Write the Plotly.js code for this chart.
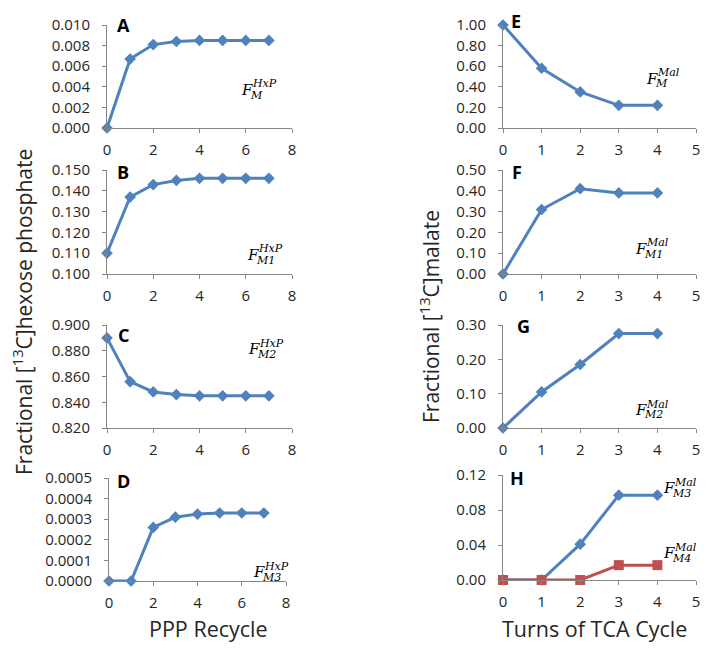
<!DOCTYPE html>
<html><head><meta charset="utf-8">
<script src="https://cdn.plot.ly/plotly-3.0.1.min.js"></script>
<style>html,body{margin:0;padding:0;background:#fff}#c{width:714px;height:649px}</style>
</head><body><div id="c"></div>
<script>
// ---- data ----
const pppX = [0,1,2,3,4,5,6,7];
const tcaX = [0,1,2,3,4];
const hxpM  = [0, 0.0067, 0.0081, 0.0084, 0.0085, 0.0085, 0.0085, 0.0085];
const hxpM1 = [0.110, 0.137, 0.143, 0.145, 0.146, 0.146, 0.146, 0.146];
const hxpM2 = [0.890, 0.856, 0.848, 0.846, 0.845, 0.845, 0.845, 0.845];
const hxpM3 = [0, 0, 0.00026, 0.00031, 0.000325, 0.00033, 0.00033, 0.00033];
const malM  = [1.00, 0.58, 0.35, 0.22, 0.22];
const malM1 = [0, 0.31, 0.41, 0.39, 0.39];
const malM2 = [0, 0.105, 0.185, 0.275, 0.275];
const malM3 = [0, 0, 0.041, 0.097, 0.097];
const malM4 = [0, 0, 0, 0.017, 0.017];
const panelLetters = ['A','B','C','D','E','F','G','H'];
const xTitles = ['PPP Recycle','Turns of TCA Cycle'];
const yTitles = ['Fractional [<sup>13</sup>C]hexose phosphate','Fractional [<sup>13</sup>C]malate'];

const W=714,H=649;
const BLUE='#4F81BD', RED='#C0504D', AX='#868686', TXT='#262626';
const FONT='Open Sans, Liberation Sans, sans-serif';
const px=x=>x/W, py=y=>1-y/H;

// panels: [x0,x1,ytop,ybot, yrange, dtick, fmt, xmax]
const panels=[
 [107,292,25,128,[0,0.010],0.002,'.3f',8],
 [107,292,170,274,[0.100,0.150],0.010,'.3f',8],
 [107,292,325,428,[0.820,0.900],0.020,'.3f',8],
 [109,286,478,581,[0,0.0005],0.0001,'.4f',8],
 [503,696,25,128,[0,1.00],0.20,'.2f',5],
 [503,696,170,274,[0,0.50],0.10,'.2f',5],
 [503,696,325,428,[0,0.30],0.10,'.2f',5],
 [503,696,475,580,[0,0.12],0.04,'.2f',5]
];
const series=[
 [pppX,hxpM,BLUE,'diamond'],[pppX,hxpM1,BLUE,'diamond'],[pppX,hxpM2,BLUE,'diamond'],[pppX,hxpM3,BLUE,'diamond'],
 [tcaX,malM,BLUE,'diamond'],[tcaX,malM1,BLUE,'diamond'],[tcaX,malM2,BLUE,'diamond'],[tcaX,malM3,BLUE,'diamond']
];
const layout={width:W,height:H,margin:{l:0,r:0,t:0,b:0},showlegend:false,
  paper_bgcolor:'#fff',plot_bgcolor:'#fff',font:{family:FONT,color:TXT},annotations:[]};
const data=[];
panels.forEach((p,i)=>{
  const n=i+1, xa='xaxis'+(n>1?n:''), ya='yaxis'+(n>1?n:'');
  const xr='x'+(n>1?n:''), yr='y'+(n>1?n:'');
  layout[xa]={domain:[px(p[0]),px(p[1])],anchor:yr,range:[0,p[7]],dtick:p[7]==8?2:1,tick0:0,
    showgrid:false,zeroline:false,showline:true,linecolor:AX,linewidth:1,ticks:'outside',ticklen:4,tickcolor:AX,
    ticklabelstandoff:4,tickfont:{size:15,color:TXT,family:FONT},fixedrange:true};
  layout[ya]={domain:[py(p[3]),py(p[2])],anchor:xr,range:p[4],dtick:p[5],tick0:p[4][0],tickformat:p[6],
    showgrid:false,zeroline:false,showline:true,linecolor:AX,linewidth:1,ticks:'outside',ticklen:4,tickcolor:AX,
    ticklabelstandoff:9,tickfont:{size:15,color:TXT,family:FONT},fixedrange:true};
  const s=series[i];
  data.push({x:s[0],y:s[1],xaxis:xr,yaxis:yr,mode:'lines+markers',cliponaxis:false,
    line:{color:s[2],width:3},marker:{symbol:s[3],size:9,color:s[2]}});
  if(i==7){
    data.push({x:tcaX,y:malM4,xaxis:xr,yaxis:yr,mode:'lines+markers',cliponaxis:false,
      line:{color:RED,width:3},marker:{symbol:'square',size:10,color:RED}});
  }
});
const letterPos=[[123,25],[123,172],[123,335],[123,481],[516,21],[517,172],[523,326],[517,478]];
letterPos.forEach((lp,i)=>layout.annotations.push({xref:'paper',yref:'paper',x:px(lp[0]),y:py(lp[1]),
  text:'<b>'+panelLetters[i]+'</b>',showarrow:false,xanchor:'center',yanchor:'middle',font:{size:18,color:'#000',family:FONT}}));

function mathLabel(x,y,sub,sup){
  const f={family:'DejaVu Serif, Liberation Serif, serif',color:'#000'};
  layout.annotations.push({xref:'paper',yref:'paper',x:px(x),y:py(y),text:'<i>F</i>',showarrow:false,
    xanchor:'center',yanchor:'middle',font:Object.assign({size:15},f)});
  layout.annotations.push({xref:'paper',yref:'paper',x:px(x+3),y:py(y-6),text:'<i>'+sup+'</i>',showarrow:false,
    xanchor:'left',yanchor:'middle',font:Object.assign({size:11},f)});
  layout.annotations.push({xref:'paper',yref:'paper',x:px(x+1),y:py(y+5),text:'<i>'+sub+'</i>',showarrow:false,
    xanchor:'left',yanchor:'middle',font:Object.assign({size:11},f)});
}
mathLabel(247,90,'M','HxP');
mathLabel(253,255,'M1','HxP');
mathLabel(254,349,'M2','HxP');
mathLabel(259,572,'M3','HxP');
mathLabel(652,79,'M','Mal');
mathLabel(641,249,'M1','Mal');
mathLabel(641,410,'M2','Mal');
mathLabel(669,488,'M3','Mal');
mathLabel(669,553,'M4','Mal');

layout.annotations.push({xref:'paper',yref:'paper',x:px(22),y:py(312),text:yTitles[0],
  textangle:-90,showarrow:false,xanchor:'center',yanchor:'middle',font:{size:21,color:TXT,family:FONT}});
layout.annotations.push({xref:'paper',yref:'paper',x:px(430),y:py(317),text:yTitles[1],
  textangle:-90,showarrow:false,xanchor:'center',yanchor:'middle',font:{size:21,color:TXT,family:FONT}});
layout.annotations.push({xref:'paper',yref:'paper',x:px(208),y:py(628),text:xTitles[0],
  showarrow:false,xanchor:'center',yanchor:'middle',font:{size:21.5,color:TXT,family:FONT}});
layout.annotations.push({xref:'paper',yref:'paper',x:px(594),y:py(628),text:xTitles[1],
  showarrow:false,xanchor:'center',yanchor:'middle',font:{size:21.5,color:TXT,family:FONT}});

Plotly.newPlot('c',data,layout,{displayModeBar:false,staticPlot:true});
</script></body></html>
